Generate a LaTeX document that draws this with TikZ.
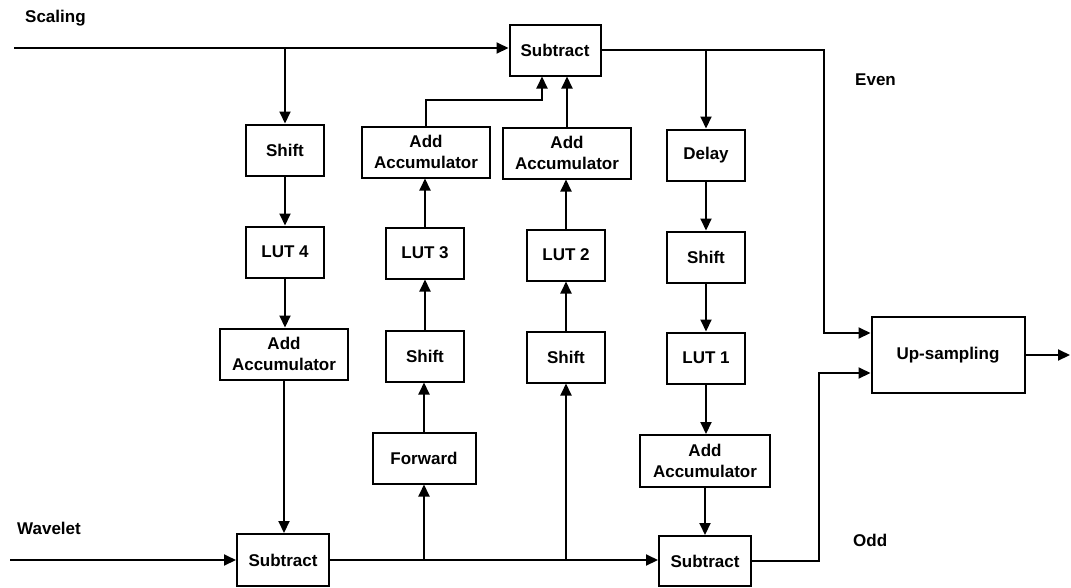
\documentclass[tikz,border=0pt]{standalone}
\usepackage{fontspec}
\setmainfont{Liberation Sans}
\usetikzlibrary{arrows.meta}
\begin{document}
\begin{tikzpicture}[x=1pt,y=-1pt,
  blk/.style={draw,line width=2pt,minimum width=78pt,minimum height=51pt,inner sep=0pt,
    align=center,font=\fontsize{17}{21}\selectfont\bfseries},
  wideblk/.style={blk,minimum width=128pt},
  lbl/.style={anchor=west,inner sep=0pt,font=\fontsize{17}{21}\selectfont\bfseries},
  wire/.style={line width=2pt},
  arr/.style={wire,-{Triangle[length=12pt,width=11pt]}}]
\useasboundingbox (0,0) rectangle (1071,587);

% upper subtractor and the left (scaling) column
\node[blk,minimum width=91pt] (subT) at (555,50) {Subtract};
\node[blk] (shiftA) at (285,150) {Shift};
\node[blk] (lut4) at (285,252) {LUT 4};
\node[wideblk] (accA) at (284,354) {Add\\Accumulator};
\node[blk,minimum width=92pt,minimum height=52pt] (subW) at (283,560) {Subtract};

% second column
\node[wideblk] (accB) at (426,152) {Add\\Accumulator};
\node[blk] (lut3) at (425,253) {LUT 3};
\node[blk] (shiftB) at (425,356) {Shift};
\node[blk,minimum width=103pt] (fwd) at (424,458) {Forward};

% third column
\node[wideblk] (accC) at (567,153) {Add\\Accumulator};
\node[blk] (lut2) at (566,255) {LUT 2};
\node[blk] (shiftC) at (566,357) {Shift};

% fourth column
\node[blk] (delay) at (706,155) {Delay};
\node[blk] (shiftD) at (706,257) {Shift};
\node[blk] (lut1) at (706,358) {LUT 1};
\node[wideblk,minimum width=130pt,minimum height=52pt] (accD) at (705,461) {Add\\Accumulator};
\node[blk,minimum width=92pt,minimum height=50pt] (subO) at (705,561) {Subtract};

% output stage
\node[blk,minimum width=153pt,minimum height=76pt] (up) at (948,355) {Up-sampling};

% signal labels
\node[lbl] (tScal) at (25,18) {Scaling};
\node[lbl] (tWave) at (17,528) {Wavelet};
\node[lbl] (tEven) at (855,80) {Even};
\node[lbl] (tOdd) at (853,540) {Odd};

% free ends, bends and input ports
\coordinate (sIn) at (14,48);
\coordinate (wIn) at (10,560);
\coordinate (outEnd) at (1070,355);
\coordinate (evenX) at (824,0);
\coordinate (oddX) at (819,0);
\coordinate (fbY) at (0,100);
\coordinate (upEven) at ([yshift=22pt]up.west);
\coordinate (upOdd) at ([yshift=-18pt]up.west);
\coordinate (subTa) at ([xshift=-13pt]subT.south);

% scaling input
\draw[arr] (sIn) -- (sIn -| subT.west);
\draw[arr] (sIn -| shiftA) -- (shiftA.north);
\draw[arr] (shiftA) -- (lut4);
\draw[arr] (lut4) -- (lut4 |- accA.north);
\draw[arr] (accA.south) -- (accA.south |- subW.north);

% wavelet input and lower bus
\draw[arr] (wIn) -- (subW.west);
\draw[arr] (subW.east) -- (subW.east -| subO.west);
\draw[arr] (subW.east -| fwd) -- (fwd.south);
\draw[arr] (subW.east -| shiftC) -- (shiftC.south);

% predict paths into the upper subtractor
\draw[arr] (fwd.north) -- (fwd.north |- shiftB.south);
\draw[arr] (shiftB) -- (lut3);
\draw[arr] (lut3.north) -- (lut3.north |- accB.south);
\draw[arr] (accB.north) -- (accB.north |- fbY) -| (subTa);
\draw[arr] (shiftC) -- (lut2);
\draw[arr] (lut2.north) -- (lut2.north |- accC.south);
\draw[arr] (accC.north) -- (accC.north |- subT.south);

% even branch
\draw[arr] (subT.east) -- (subT.east -| evenX) -- (evenX |- upEven) -- (upEven);
\draw[arr] (subT.east -| delay) -- (delay.north);
\draw[arr] (delay) -- (shiftD);
\draw[arr] (shiftD) -- (lut1);
\draw[arr] (lut1.south) -- (lut1.south |- accD.north);
\draw[arr] (accD) -- (subO);

% odd branch and output
\draw[arr] (subO.east) -- (subO.east -| oddX) -- (oddX |- upOdd) -- (upOdd);
\draw[arr] (up.east) -- (outEnd);
\end{tikzpicture}
\end{document}
